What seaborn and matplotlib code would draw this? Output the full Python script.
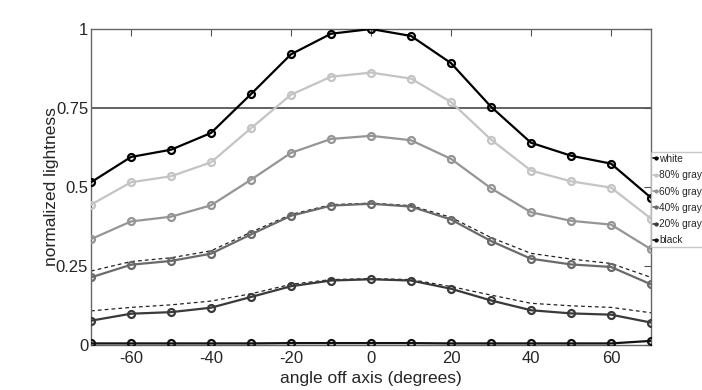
import numpy as np
import pandas as pd
import seaborn as sns
import matplotlib.pyplot as plt
from matplotlib.lines import Line2D

angles = [-70, -60, -50, -40, -30, -20, -10, 0, 10, 20, 30, 40, 50, 60, 70]

white = [0.515, 0.595, 0.618, 0.671, 0.794, 0.920, 0.985, 1.000, 0.978, 0.892, 0.754, 0.640, 0.599, 0.574, 0.466]
gray80 = [0.444, 0.515, 0.534, 0.578, 0.686, 0.792, 0.849, 0.862, 0.843, 0.769, 0.650, 0.552, 0.518, 0.498, 0.400]
gray60 = [0.335, 0.391, 0.406, 0.442, 0.523, 0.608, 0.652, 0.662, 0.648, 0.589, 0.496, 0.420, 0.393, 0.381, 0.303]
gray40 = [0.214, 0.254, 0.266, 0.289, 0.350, 0.409, 0.441, 0.447, 0.438, 0.397, 0.329, 0.273, 0.255, 0.247, 0.192]
gray20 = [0.077, 0.099, 0.104, 0.118, 0.152, 0.186, 0.204, 0.208, 0.204, 0.178, 0.141, 0.110, 0.100, 0.096, 0.071]
black = [0.005, 0.005, 0.005, 0.005, 0.005, 0.006, 0.006, 0.006, 0.006, 0.005, 0.005, 0.005, 0.005, 0.005, 0.013]

# dashed reference curves
ref40 = [0.234, 0.264, 0.276, 0.298, 0.357, 0.413, 0.444, 0.449, 0.441, 0.404, 0.340, 0.290, 0.272, 0.258, 0.214]
ref20 = [0.108, 0.119, 0.127, 0.139, 0.162, 0.192, 0.207, 0.210, 0.207, 0.185, 0.158, 0.132, 0.124, 0.119, 0.102]

names = ["white", "80% gray", "60% gray", "40% gray", "20% gray", "black"]
colors = ["#000000", "#c4c4c4", "#959595", "#6a6a6a", "#3a3a3a", "#111111"]

sns.set_style("white")
plt.rcParams['font.family'] = ['Liberation Sans', 'DejaVu Sans']
plt.rcParams['axes.unicode_minus'] = False

fig = plt.figure(figsize=(7.02, 3.9), dpi=100)
ax = fig.add_axes([91/702, 1-345/390, 560/702, 316/390])

series = [white, gray80, gray60, gray40, gray20, black]
df = pd.DataFrame({"angle": angles * 6,
                   "value": sum(series, []),
                   "name": sum([[n] * len(angles) for n in names], [])})

ax.axhline(0.75, color="#555555", lw=1.3, zorder=1)

for ref in [ref40, ref20]:
    sns.lineplot(x=angles, y=ref, ax=ax, color="#222222", lw=0.9,
                 linestyle=(0, (3, 2.5)), zorder=2)

for n, c in zip(names[::-1], colors[::-1]):
    sub = df[df["name"] == n]
    sns.lineplot(data=sub, x="angle", y="value", ax=ax, color=c, lw=1.6,
                 marker="o", markersize=5, markerfacecolor="none",
                 markeredgecolor=c, markeredgewidth=1.6, zorder=3)

ax.set_xlim(-70, 70)
ax.set_ylim(0, 1)
ax.set_xticks([-60, -40, -20, 0, 20, 40, 60])
ax.set_yticks([0, 0.25, 0.5, 0.75, 1])
ax.set_yticklabels(["0", "0.25", "0.5", "0.75", "1"])
ax.tick_params(direction="in", length=5, width=0.8, color="#555555",
               labelsize=12, top=True, right=True, pad=2)
ax.tick_params(axis="x", pad=4)
for s in ax.spines.values():
    s.set_color("#666666")
    s.set_linewidth(1.0)
ax.set_xlabel("angle off axis (degrees)", fontsize=12.5, labelpad=4)
ax.set_ylabel("normalized lightness", fontsize=12.5, labelpad=-2)

handles = [Line2D([], [], color=c, lw=1.2, marker=".", markersize=4) for c in colors]
fig.legend(handles, names, loc="upper left", bbox_to_anchor=(651/702, 1-152/390),
           fontsize=7.3, handlelength=0.5, handletextpad=0.1, borderpad=0.2,
           labelspacing=0.62, frameon=True, fancybox=False, edgecolor="#bbbbbb",
           borderaxespad=0)

fig.savefig("out.png", dpi=100)
